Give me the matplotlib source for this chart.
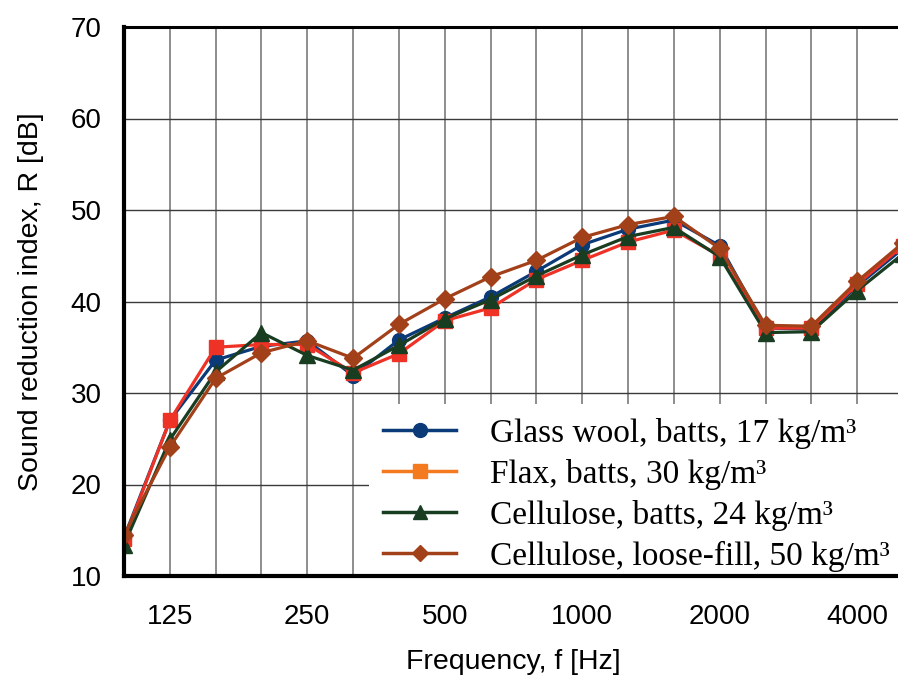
import matplotlib
matplotlib.use("Agg")
import matplotlib.pyplot as plt
from matplotlib.lines import Line2D

# third-octave band centre frequencies [Hz]
freqs = ['100', '125', '160', '200', '250', '315', '400', '500', '630',
         '800', '1000', '1250', '1600', '2000', '2500', '3150', '4000', '5000']
labelled = ['125', '250', '500', '1000', '2000', '4000']

# sound reduction index R [dB]
glass_wool = [14.2, 27.0, 33.6, 35.1, 35.7, 31.9, 35.8, 38.2, 40.5, 43.3,
              46.2, 47.9, 48.9, 46.1, 37.1, 37.0, 41.7, 45.8]
flax = [14.0, 27.0, 35.0, 35.3, 35.3, 32.2, 34.3, 37.9, 39.3, 42.4,
        44.5, 46.5, 47.8, 45.0, 37.1, 37.1, 41.9, 46.1]
cellulose_batts = [13.4, 24.9, 32.3, 36.6, 34.1, 32.5, 35.2, 38.1, 40.2, 42.8,
                   45.1, 47.1, 48.1, 44.9, 36.6, 36.7, 41.2, 45.2]
cellulose_loose = [14.5, 24.1, 31.6, 34.4, 35.7, 33.8, 37.5, 40.3, 42.7, 44.5,
                   47.0, 48.4, 49.3, 45.8, 37.4, 37.3, 42.2, 46.4]

names = ['Glass wool, batts, 17 kg/m³', 'Flax, batts, 30 kg/m³',
         'Cellulose, batts, 24 kg/m³', 'Cellulose, loose-fill, 50 kg/m³']

x = list(range(len(freqs)))

fig = plt.figure(figsize=(8.98, 6.75), dpi=100)
ax = fig.add_axes([124 / 898, 99 / 675, 779 / 898, 549 / 675])

# vertical band grid and horizontal dB grid
for xi in x:
    ax.axvline(xi, color='#7a7a7a', lw=1.2, zorder=0)
for yv in range(20, 70, 10):
    ax.axhline(yv, color='#3a3a3a', lw=1.0, zorder=0)

ax.plot(x, glass_wool, color='#0b3a78', marker='o', ms=10, lw=2.3, zorder=3)
ax.plot(x, flax, color='#ef3226', marker='s', ms=10, lw=2.3, zorder=3)
ax.plot(x, cellulose_batts, color='#183d21', marker='^', ms=11, lw=2.3, zorder=3)
ax.plot(x, cellulose_loose, color='#a2401a', marker='D', ms=9, lw=2.3, zorder=3)

ax.set_xlim(0, len(freqs) - 1)
ax.set_ylim(10, 70)
ax.set_yticks(range(10, 80, 10))
ax.set_xticks(x)
ax.set_xticklabels([f if f in labelled else '' for f in freqs])
ax.tick_params(axis='both', length=0, labelsize=20)
ax.tick_params(axis='x', pad=20)
ax.tick_params(axis='y', pad=16)
for lab in ax.get_xticklabels() + ax.get_yticklabels():
    lab.set_family('Liberation Sans')

ax.spines['right'].set_visible(False)
ax.spines['left'].set_linewidth(3.0)
ax.spines['bottom'].set_linewidth(3.0)
ax.spines['top'].set_linewidth(2.2)
for s in ax.spines.values():
    s.set_zorder(10)

ax.set_xlabel('Frequency, f [Hz]', family='Liberation Sans', fontsize=20.5, labelpad=14)
ax.set_ylabel('Sound reduction index, R [dB]', family='Liberation Sans', fontsize=20.5, labelpad=19)

# legend swatches (flax shown in orange in the key)
handles = [
    Line2D([], [], color='#0b3a78', marker='o', ms=10, lw=2.5),
    Line2D([], [], color='#f47a20', marker='s', ms=10, lw=2.5),
    Line2D([], [], color='#183d21', marker='^', ms=10.5, lw=2.5),
    Line2D([], [], color='#a2401a', marker='D', ms=8, lw=2.5),
]
leg = ax.legend(handles, names, loc='lower left', bbox_to_anchor=(245 / 779, -10 / 549),
                prop={'family': 'Liberation Serif', 'size': 24}, frameon=True,
                fancybox=False, framealpha=1, edgecolor='none', facecolor='white',
                handlelength=2.2, handletextpad=1.0, labelspacing=0.3,
                borderpad=0.42, borderaxespad=0.0)
leg.set_zorder(5)

fig.savefig('out.png', dpi=100)
